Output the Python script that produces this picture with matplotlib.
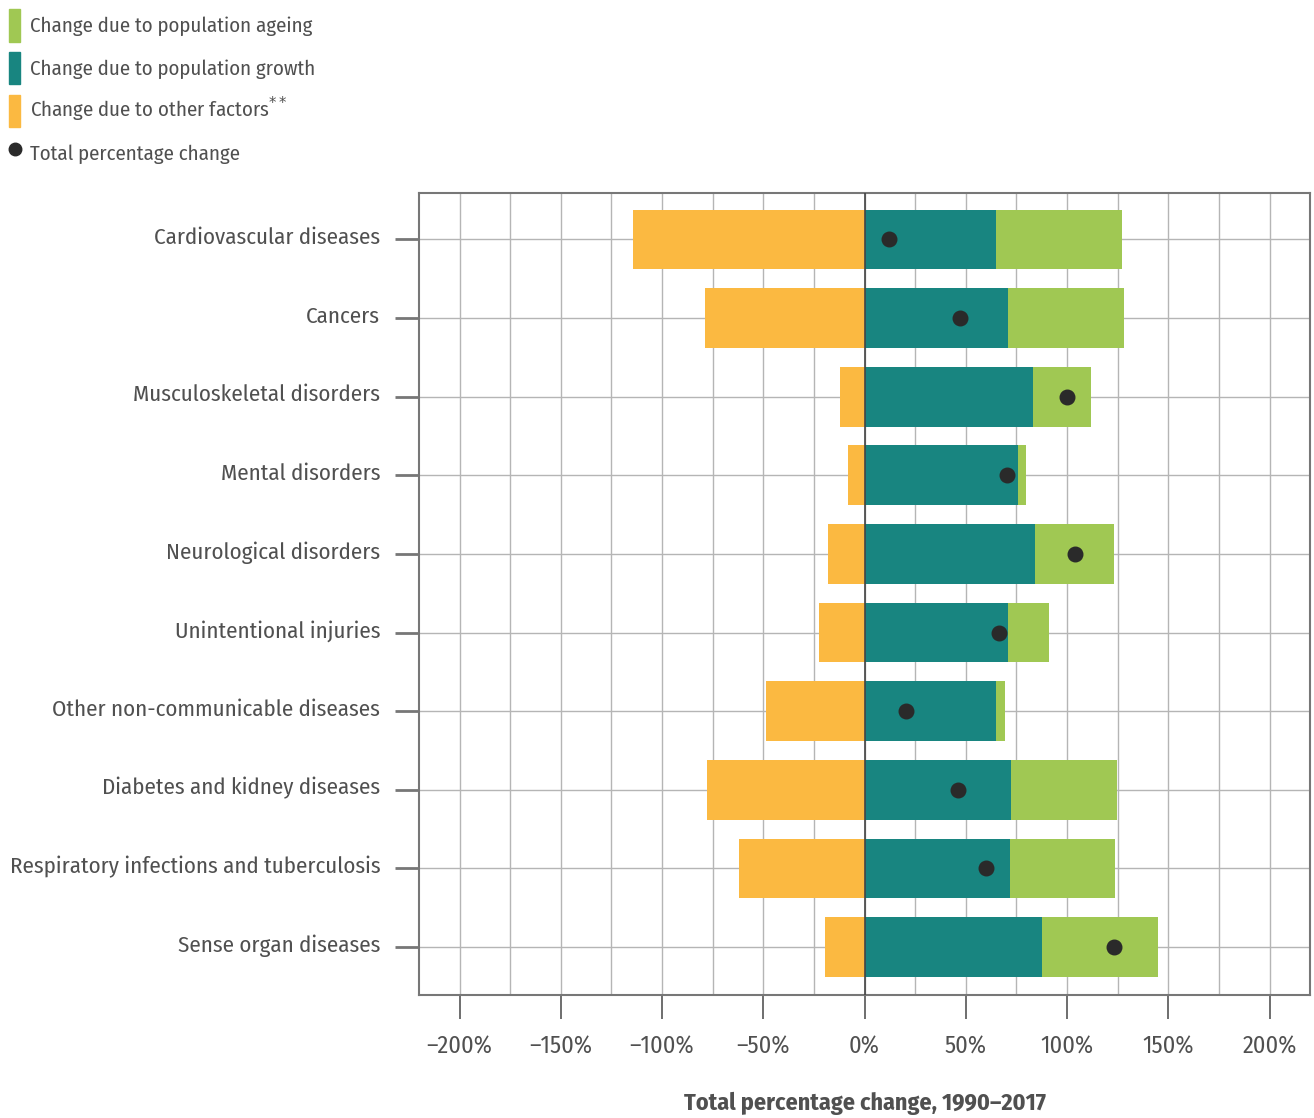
import matplotlib.pyplot as plt
from matplotlib.patches import Patch
from matplotlib.lines import Line2D
from matplotlib.transforms import ScaledTranslation
import matplotlib.font_manager as fm

names = {f.name for f in fm.fontManager.ttflist}
prefs = ["Fira Sans Condensed", "PT Sans Narrow", "Roboto Condensed",
         "Open Sans Condensed", "Liberation Sans Narrow", "DejaVu Sans"]
font = next(f for f in prefs if f in names or f == "DejaVu Sans")
plt.rcParams["font.family"] = [font, "DejaVu Sans"]

categories = [
    "Cardiovascular diseases",
    "Cancers",
    "Musculoskeletal disorders",
    "Mental disorders",
    "Neurological disorders",
    "Unintentional injuries",
    "Other non-communicable diseases",
    "Diabetes and kidney diseases",
    "Respiratory infections and tuberculosis",
    "Sense organ diseases",
]
growth = [65, 71, 83, 76, 84, 71, 65, 72.5, 72, 87.5]
ageing = [62, 57, 29, 3.5, 39, 20, 4.5, 52, 51.5, 57.5]
other = [-114.5, -79, -12, -8, -18, -22.5, -48.5, -78, -62, -19.5]
total = [12, 47, 100, 70.5, 104, 66.5, 20.5, 46, 60, 123]

c_age = "#a0c853"
c_growth = "#188580"
c_other = "#fbb941"
c_dot = "#2a2a2a"
txt = "#505050"

fig = plt.figure(figsize=(13.14, 11.18), dpi=100)
ax = fig.add_axes([0.3189, 0.110, 0.6781, 0.7173])

y = list(range(len(categories)))
h = 0.76
ax.barh(y, other, height=h, color=c_other, zorder=2)
ax.barh(y, growth, height=h, color=c_growth, zorder=2)
ax.barh(y, ageing, left=growth, height=h, color=c_age, zorder=2)
ax.scatter(total, y, s=110, color=c_dot, zorder=3)

ax.set_xlim(-220, 220)
ax.set_ylim(len(categories) - 0.39, -0.59)
ax.set_yticks(y)
ax.set_yticklabels(categories)
ax.set_xticks(range(-200, 201, 50))
ax.set_xticklabels([f"{v}%".replace("-", "\u2013") for v in range(-200, 201, 50)])
ax.set_xticks(range(-200, 201, 25), minor=True)

ax.grid(True, which="both", axis="x", color="#b5b5b5", lw=1, zorder=0)
ax.grid(True, axis="y", color="#b5b5b5", lw=1, zorder=0)
ax.axvline(0, color="#444444", lw=1.2, zorder=4)
for s in ax.spines.values():
    s.set_color("#777777")
    s.set_linewidth(1.5)

ax.tick_params(axis="x", which="major", length=17, width=1.2, color="#555555",
               labelsize=17.5, labelcolor=txt, pad=12)
ax.tick_params(axis="x", which="minor", length=0)
ax.tick_params(axis="y", length=17, width=2, color="#777777",
               labelsize=16.5, labelcolor=txt, pad=11)
# labels sit a touch above the tick in the original
shift = ScaledTranslation(0, 4 / 100, fig.dpi_scale_trans)
for lab in ax.get_yticklabels():
    lab.set_transform(lab.get_transform() + shift)

ax.set_xlabel("Total percentage change, 1990\u20132017", fontsize=17.3,
              fontweight="bold", color=txt, labelpad=24)

handles = [
    Patch(color=c_age, label="Change due to population ageing"),
    Patch(color=c_growth, label="Change due to population growth"),
    Patch(color=c_other, label="Change due to other factors$^{**}$"),
    Line2D([], [], marker="o", ls="none", color=c_dot, markersize=9,
           label="Total percentage change"),
]
fig.legend(handles=handles, loc="upper left", bbox_to_anchor=(0.0, 1.0),
           frameon=False, fontsize=15, labelcolor=txt, handlelength=0.5,
           handleheight=2.0, handletextpad=0.5, labelspacing=0.5,
           borderaxespad=0.0, borderpad=0.45)

fig.savefig("out.png", dpi=100)
